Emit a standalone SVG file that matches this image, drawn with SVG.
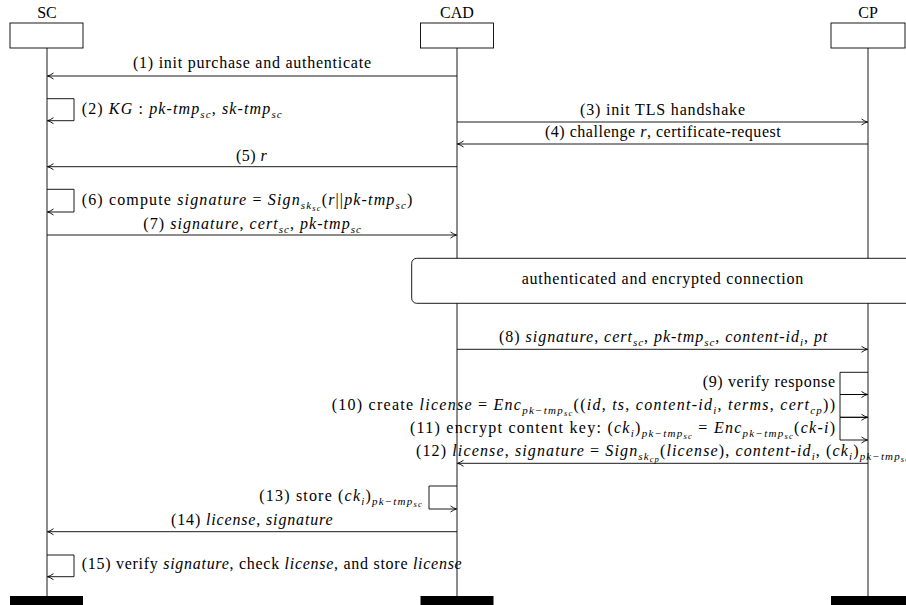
<svg xmlns="http://www.w3.org/2000/svg" width="906" height="605" viewBox="0 0 906 605">
<defs>
<style>
.t{font-family:"Liberation Serif","Times New Roman",serif;font-size:16px;fill:#000}
.i{font-style:italic}
.s{font-size:11px;font-style:italic}
.ss{font-size:8.5px;font-style:italic}
.ln{stroke:#000;stroke-width:0.9;fill:none}
.hd{fill:#fff;stroke:#000;stroke-width:0.9}
.bar{fill:#000}
.msg{stroke:#000;stroke-width:0.9;fill:none;marker-end:url(#ah)}
</style>
<marker id="ah" markerUnits="userSpaceOnUse" viewBox="-8 -5 10 10" refX="0" refY="0" markerWidth="10" markerHeight="10" orient="auto">
<path d="M-6,-3 Q-2.5,-0.6 0,0 Q-2.5,0.6 -6,3" fill="none" stroke="#000" stroke-width="0.9"/>
</marker>
</defs>
<rect width="906" height="605" fill="#fff"/>

<g id="node-sc">
<text class="t" x="47" y="18" text-anchor="middle">SC</text>
<rect class="hd" x="10" y="23" width="73" height="25"/>
<line class="ln" x1="47" y1="48" x2="47" y2="596"/>
<rect class="bar" x="10" y="596" width="73" height="10"/>
</g>
<g id="node-cad">
<text class="t" x="457" y="18" text-anchor="middle">CAD</text>
<rect class="hd" x="420.5" y="23" width="73" height="25"/>
<line class="ln" x1="457" y1="48" x2="457" y2="596"/>
<rect class="bar" x="420.5" y="596" width="73" height="10"/>
</g>
<g id="node-cp">
<text class="t" x="868" y="18" text-anchor="middle">CP</text>
<rect class="hd" x="831" y="23" width="74" height="25"/>
<line class="ln" x1="868" y1="48" x2="868" y2="596"/>
<rect class="bar" x="831" y="596" width="76" height="10"/>
</g>

<g id="node-secure">
<rect class="hd" x="411.7" y="258.3" width="520" height="45" rx="5" ry="5"/>
<text class="t" x="521.7" y="284" textLength="281.6" lengthAdjust="spacing">authenticated and encrypted connection</text>
</g>

<g id="connectors">
<path class="msg" d="M457,76 H47.5"/>
<path class="msg" d="M47,98.7 H74 V120.7 H47.5"/>
<path class="msg" d="M457,122 H867.5"/>
<path class="msg" d="M868,144 H457.5"/>
<path class="msg" d="M457,166.7 H47.5"/>
<path class="msg" d="M47,189.3 H74 V212 H47.5"/>
<path class="msg" d="M47,235 H456.5"/>
<path class="msg" d="M457,349.3 H867.5"/>
<path class="msg" d="M868,372.3 H840 V394.5 H867.5"/>
<path class="msg" d="M868,394.5 H840 V417.3 H867.5"/>
<path class="msg" d="M868,417.3 H840 V440 H867.5"/>
<path class="msg" d="M868,463.3 H457.5"/>
<path class="msg" d="M457,486 H429 V509 H456.5"/>
<path class="msg" d="M457,531.7 H47.5"/>
<path class="msg" d="M47,555 H74 V576.7 H47.5"/>
</g>

<g id="labels">
<text class="t" x="133" y="68" textLength="238" lengthAdjust="spacing">(1) init purchase and authenticate</text>
<text class="t" x="81.7" y="113.5" textLength="200" lengthAdjust="spacing">(2) <tspan class="i">KG</tspan> : <tspan class="i">pk-tmp</tspan><tspan class="s" baseline-shift="-3.5">sc</tspan>, <tspan class="i">sk-tmp</tspan><tspan class="s" baseline-shift="-3.5">sc</tspan></text>
<text class="t" x="580" y="115" textLength="165" lengthAdjust="spacing">(3) init TLS handshake</text>
<text class="t" x="545" y="137" textLength="235.7" lengthAdjust="spacing">(4) challenge <tspan class="i">r</tspan>, certificate-request</text>
<text class="t" x="236" y="160.5" textLength="30.7" lengthAdjust="spacing">(5) <tspan class="i">r</tspan></text>
<text class="t" x="81.7" y="205" textLength="330.6" lengthAdjust="spacing">(6) compute <tspan class="i">signature</tspan> = <tspan class="i">Sign</tspan><tspan class="s" baseline-shift="-3.5">sk<tspan class="ss" baseline-shift="-2">sc</tspan></tspan>(<tspan class="i">r</tspan>||<tspan class="i">pk-tmp</tspan><tspan class="s" baseline-shift="-3.5">sc</tspan>)</text>
<text class="t" x="143.3" y="228.5" textLength="217.7" lengthAdjust="spacing">(7) <tspan class="i">signature</tspan>, <tspan class="i">cert</tspan><tspan class="s" baseline-shift="-3.5">sc</tspan>, <tspan class="i">pk-tmp</tspan><tspan class="s" baseline-shift="-3.5">sc</tspan></text>
<text class="t" x="499" y="342" textLength="328.3" lengthAdjust="spacing">(8) <tspan class="i">signature</tspan>, <tspan class="i">cert</tspan><tspan class="s" baseline-shift="-3.5">sc</tspan>, <tspan class="i">pk-tmp</tspan><tspan class="s" baseline-shift="-3.5">sc</tspan>, <tspan class="i">content-id</tspan><tspan class="s" baseline-shift="-3.5">i</tspan>, <tspan class="i">pt</tspan></text>
<text class="t" x="835" y="387.3" text-anchor="end" textLength="132.3" lengthAdjust="spacing">(9) verify response</text>
<text class="t" x="835" y="410.3" text-anchor="end" textLength="503.3" lengthAdjust="spacing">(10) create <tspan class="i">license</tspan> = <tspan class="i">Enc</tspan><tspan class="s" baseline-shift="-3.5">pk−tmp<tspan class="ss" baseline-shift="-2">sc</tspan></tspan>((<tspan class="i">id</tspan>, <tspan class="i">ts</tspan>, <tspan class="i">content-id</tspan><tspan class="s" baseline-shift="-3.5">i</tspan>, <tspan class="i">terms</tspan>, <tspan class="i">cert</tspan><tspan class="s" baseline-shift="-3.5">cp</tspan>))</text>
<text class="t" x="835" y="433.3" text-anchor="end" textLength="425" lengthAdjust="spacing">(11) encrypt content key: (<tspan class="i">ck</tspan><tspan class="s" baseline-shift="-3.5">i</tspan>)<tspan class="s" baseline-shift="-3.5">pk−tmp<tspan class="ss" baseline-shift="-2">sc</tspan></tspan> = <tspan class="i">Enc</tspan><tspan class="s" baseline-shift="-3.5">pk−tmp<tspan class="ss" baseline-shift="-2">sc</tspan></tspan>(<tspan class="i">ck-i</tspan>)</text>
<text class="t" x="662.5" y="455.8" text-anchor="middle" textLength="493" lengthAdjust="spacing">(12) <tspan class="i">license</tspan>, <tspan class="i">signature</tspan> = <tspan class="i">Sign</tspan><tspan class="s" baseline-shift="-3.5">sk<tspan class="ss" baseline-shift="-2">cp</tspan></tspan>(<tspan class="i">license</tspan>), <tspan class="i">content-id</tspan><tspan class="s" baseline-shift="-3.5">i</tspan>, (<tspan class="i">ck</tspan><tspan class="s" baseline-shift="-3.5">i</tspan>)<tspan class="s" baseline-shift="-3.5">pk−tmp<tspan class="ss" baseline-shift="-2">sc</tspan></tspan></text>
<text class="t" x="421.7" y="500.5" text-anchor="end" textLength="162.4" lengthAdjust="spacing">(13) store (<tspan class="i">ck</tspan><tspan class="s" baseline-shift="-3.5">i</tspan>)<tspan class="s" baseline-shift="-3.5">pk−tmp<tspan class="ss" baseline-shift="-2">sc</tspan></tspan></text>
<text class="t" x="171" y="525" textLength="161.7" lengthAdjust="spacing">(14) <tspan class="i">license</tspan>, <tspan class="i">signature</tspan></text>
<text class="t" x="81.7" y="569.3" textLength="380" lengthAdjust="spacing">(15) verify <tspan class="i">signature</tspan>, check <tspan class="i">license</tspan>, and store <tspan class="i">license</tspan></text>
</g>
</svg>
